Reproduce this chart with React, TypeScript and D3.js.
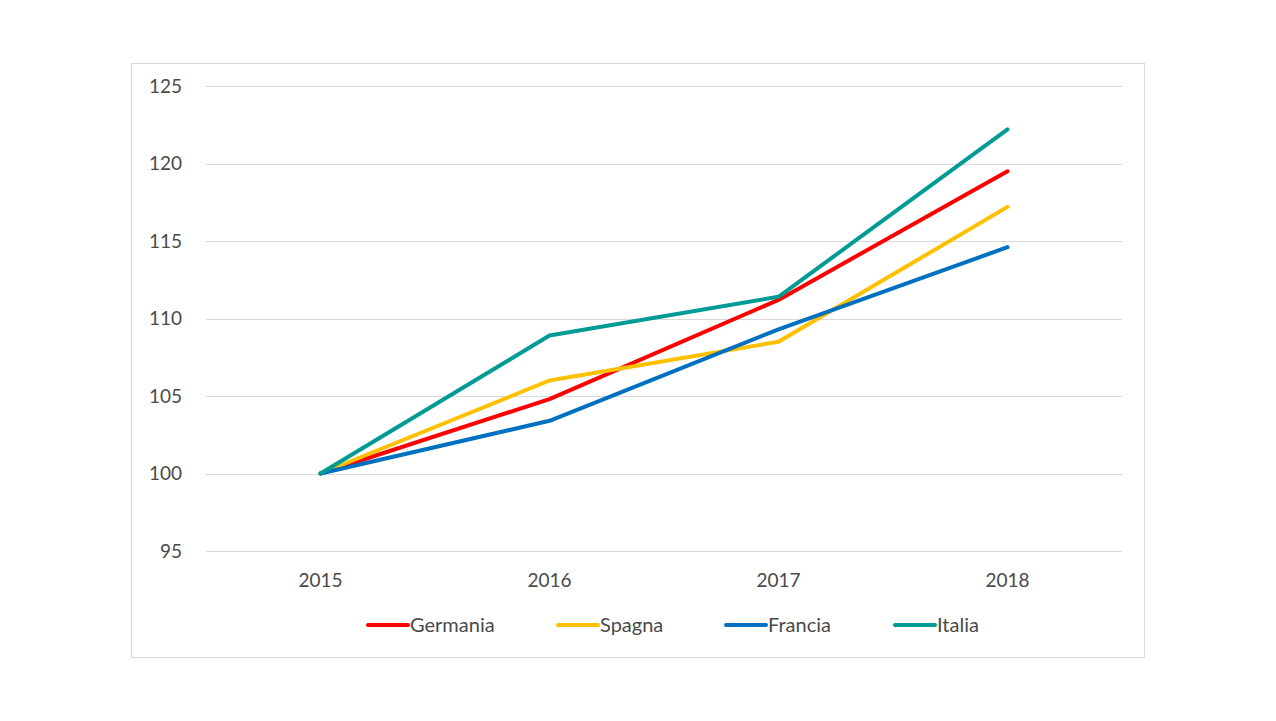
import React from "react";
import * as d3 from "d3";

const years = ["2015", "2016", "2017", "2018"];
const germania = [100, 104.8, 111.2, 119.5];
const spagna = [100, 106.0, 108.5, 117.2];
const francia = [100, 103.4, 109.3, 114.6];
const italia = [100, 108.9, 111.4, 122.2];
const yTicks = [95, 100, 105, 110, 115, 120, 125];

const seriesList = [
  { name: "Germania", values: germania, color: "#FF0000" },
  { name: "Spagna", values: spagna, color: "#FFC000" },
  { name: "Francia", values: francia, color: "#0070C0" },
  { name: "Italia", values: italia, color: "#009B95" },
];
const legendX = [366, 556, 724, 893];

export default function App() {
  const W = 1276, H = 721;
  const x = d3.scalePoint<string>().domain(years).range([206, 1122]).padding(0.5);
  const y = d3.scaleLinear().domain([95, 125]).range([551, 86]);
  const line = d3
    .line<number>()
    .x((_, i) => x(years[i]) as number)
    .y((d) => y(d));
  const font = "Lato, 'Open Sans', sans-serif";
  const txt = "#4A4A4A";
  return (
    <svg width={W} height={H} style={{ position: "absolute", left: 0, top: 0, background: "#fff" }}>
      <rect x={0} y={0} width={W} height={H} fill="#fff" />
      <rect x={131.5} y={63.5} width={1013} height={594} fill="#fff" stroke="#D9D9D9" strokeWidth={1} />
      {yTicks.map((t) => (
        <g key={t}>
          <line x1={206} x2={1122} y1={Math.round(y(t)) + 0.5} y2={Math.round(y(t)) + 0.5} stroke="#D9D9D9" strokeWidth={1} />
          <text x={182} y={y(t)} dy="0.35em" textAnchor="end" fontFamily={font} fontSize={19} fill={txt}>
            {t}
          </text>
        </g>
      ))}
      {years.map((yr) => (
        <text key={yr} x={x(yr)} y={580} dy="0.35em" textAnchor="middle" fontFamily={font} fontSize={19} fill={txt}>
          {yr}
        </text>
      ))}
      {seriesList.map((s) => (
        <path key={s.name} d={line(s.values) || ""} fill="none" stroke={s.color} strokeWidth={4} strokeLinecap="round" strokeLinejoin="round" />
      ))}
      {seriesList.map((s, i) => (
        <g key={s.name} transform={`translate(${legendX[i]},625)`}>
          <line x1={2} x2={42} y1={0} y2={0} stroke={s.color} strokeWidth={4} strokeLinecap="round" />
          <text x={44} y={0} dy="0.35em" fontFamily={font} fontSize={20} fill={txt}>
            {s.name}
          </text>
        </g>
      ))}
    </svg>
  );
}
